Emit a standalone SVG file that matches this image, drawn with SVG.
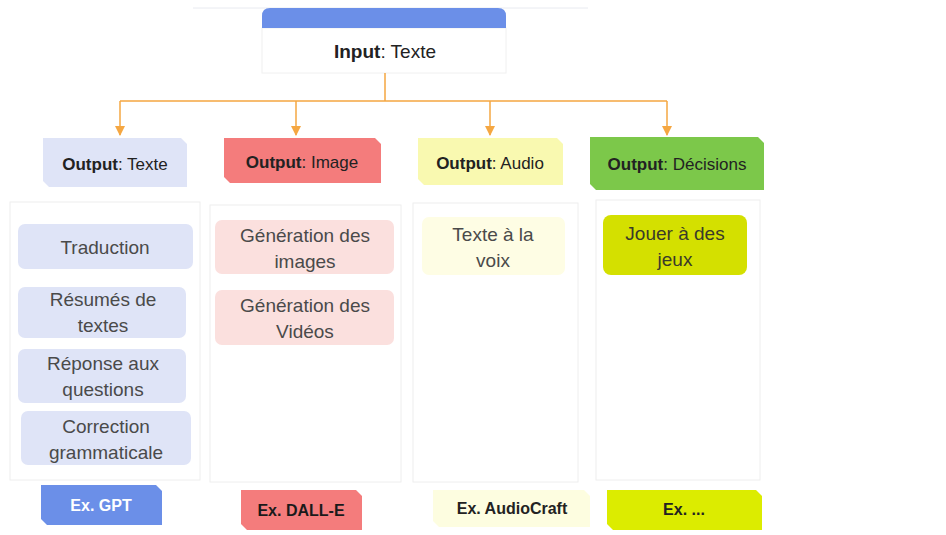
<svg xmlns="http://www.w3.org/2000/svg" width="946" height="535" viewBox="0 0 946 535">
  <style>
    text { font-family: "Liberation Sans", Arial, sans-serif; }
    .hdr { font-size: 17px; fill: #222; text-anchor: middle; }
    .b { font-weight: bold; }
    .item { font-size: 19px; fill: #4a4a4a; text-anchor: middle; }
    .ex { font-size: 16px; font-weight: bold; text-anchor: middle; }
    .panel { fill: #ffffff; stroke: #eeeeee; stroke-width: 1; }
    .conn { stroke: #f5a742; stroke-width: 1.5; fill: none; }
  </style>
  <defs>
    <marker id="arr" viewBox="0 0 10 10" refX="9" refY="5" markerWidth="7" markerHeight="7" orient="auto">
      <path d="M0,0 L10,5 L0,10 z" fill="#f5a742"/>
    </marker>
  </defs>

  <rect width="946" height="535" fill="#ffffff"/>
  <line x1="193" y1="8" x2="588" y2="8" stroke="#e8eaf0" stroke-width="1"/>

  <!-- input node -->
  <g id="input">
    <rect x="262" y="28" width="244" height="45" fill="#fff" stroke="#f0f0f0"/>
    <path d="M262,28 V16 Q262,8 270,8 H498 Q506,8 506,16 V28 Z" fill="#6b8fe8"/>
    <text x="385" y="58" class="hdr" style="font-size:19px"><tspan class="b">Input</tspan>: Texte</text>
  </g>

  <!-- connectors -->
  <g id="connectors">
    <path class="conn" d="M385,73 V101 M120,101 H667"/>
    <line class="conn" x1="120" y1="101" x2="120" y2="135" marker-end="url(#arr)"/>
    <line class="conn" x1="296" y1="101" x2="296" y2="135" marker-end="url(#arr)"/>
    <line class="conn" x1="490" y1="101" x2="490" y2="135" marker-end="url(#arr)"/>
    <line class="conn" x1="667" y1="101" x2="667" y2="135" marker-end="url(#arr)"/>
  </g>

  <!-- output headers -->
  <g id="out-texte">
    <path d="M43,138 H181 L187,144 V187 H49 L43,181 Z" fill="#dfe4f7"/>
    <text x="115" y="170" class="hdr"><tspan class="b">Output</tspan>: Texte</text>
  </g>
  <g id="out-image">
    <path d="M224,138 H375 L381,144 V183 H230 L224,177 Z" fill="#f47c7c"/>
    <text x="302" y="168" class="hdr"><tspan class="b">Output</tspan>: Image</text>
  </g>
  <g id="out-audio">
    <path d="M418,138 H557 L563,144 V185 H424 L418,179 Z" fill="#f9f9b0"/>
    <text x="490" y="169" class="hdr"><tspan class="b">Output</tspan>: Audio</text>
  </g>
  <g id="out-decisions">
    <path d="M590,137 H758 L764,143 V190 H596 L590,184 Z" fill="#7cc84a"/>
    <text x="677" y="170" class="hdr"><tspan class="b">Output</tspan>: Décisions</text>
  </g>

  <!-- panels -->
  <g id="panel-texte">
    <rect class="panel" x="10" y="202" width="190" height="278"/>
  </g>
  <g id="panel-image">
    <rect class="panel" x="210" y="205" width="191" height="277"/>
  </g>
  <g id="panel-audio">
    <rect class="panel" x="413" y="203" width="165" height="279"/>
  </g>
  <g id="panel-decisions">
    <rect class="panel" x="596" y="200" width="164" height="280"/>
  </g>

  <!-- text uses -->
  <g id="traduction">
    <rect x="18" y="224" width="175" height="45" rx="7" fill="#dfe4f7"/>
    <text x="105" y="254" class="item">Traduction</text>
  </g>
  <g id="resumes">
    <rect x="18" y="287" width="168" height="51" rx="7" fill="#dfe4f7"/>
    <text x="103" y="306" class="item">Résumés de</text>
    <text x="103" y="332" class="item">textes</text>
  </g>
  <g id="reponse">
    <rect x="18" y="349" width="168" height="54" rx="7" fill="#dfe4f7"/>
    <text x="103" y="370" class="item">Réponse aux</text>
    <text x="103" y="396" class="item">questions</text>
  </g>
  <g id="correction">
    <rect x="21" y="411" width="170" height="54" rx="7" fill="#dfe4f7"/>
    <text x="106" y="433" class="item">Correction</text>
    <text x="106" y="459" class="item">grammaticale</text>
  </g>

  <!-- image uses -->
  <g id="gen-images">
    <rect x="215" y="220" width="179" height="54" rx="7" fill="#fbe0de"/>
    <text x="305" y="242" class="item">Génération des</text>
    <text x="305" y="268" class="item">images</text>
  </g>
  <g id="gen-videos">
    <rect x="215" y="290" width="179" height="55" rx="7" fill="#fbe0de"/>
    <text x="305" y="312" class="item">Génération des</text>
    <text x="305" y="338" class="item">Vidéos</text>
  </g>

  <!-- audio uses -->
  <g id="texte-voix">
    <rect x="422" y="217" width="143" height="58" rx="7" fill="#fefde4"/>
    <text x="493" y="241" class="item">Texte à la</text>
    <text x="493" y="267" class="item">voix</text>
  </g>

  <!-- decision uses -->
  <g id="jeux">
    <rect x="603" y="215" width="144" height="60" rx="8" fill="#d4e000"/>
    <text x="675" y="240" class="item" style="fill:#3a3a2a">Jouer à des</text>
    <text x="675" y="266" class="item" style="fill:#3a3a2a">jeux</text>
  </g>

  <!-- examples -->
  <g id="ex-gpt">
    <path d="M41,485 H156 L162,491 V525 H47 L41,519 Z" fill="#6b8fe8"/>
    <text x="101" y="511" class="ex" fill="#ffffff">Ex. GPT</text>
  </g>
  <g id="ex-dalle">
    <path d="M241,490 H356 L362,496 V530 H247 L241,524 Z" fill="#f47c7c"/>
    <text x="301" y="516" class="ex" fill="#1a1a1a">Ex. DALL-E</text>
  </g>
  <g id="ex-audiocraft">
    <path d="M433,490 H584 L590,496 V527 H439 L433,521 Z" fill="#fdfde0"/>
    <text x="512" y="514" class="ex" fill="#222">Ex. AudioCraft</text>
  </g>
  <g id="ex-other">
    <path d="M607,490 H756 L762,496 V530 H613 L607,524 Z" fill="#dcec00"/>
    <text x="684" y="515" class="ex" fill="#222">Ex. ...</text>
  </g>
</svg>
